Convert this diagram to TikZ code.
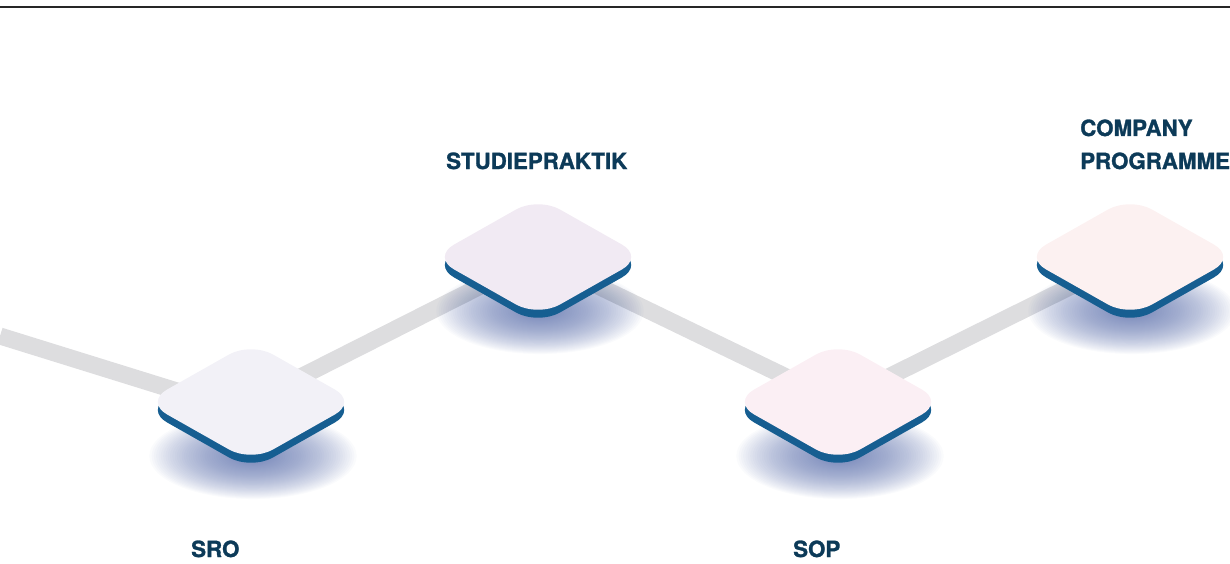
\documentclass[tikz,border=0pt]{standalone}
\usepackage{fontspec}
\setmainfont{TeX Gyre Heros}[BoldFeatures={FakeBold=1.3}]
\usepackage{tikz}
\usetikzlibrary{shapes.geometric,calc}
\pgfdeclarelayer{background}
\pgfdeclarelayer{shade}
\pgfsetlayers{background,shade,main}
\definecolor{navy}{RGB}{12,58,88}
\definecolor{rimblue}{RGB}{22,94,145}
\definecolor{roadgray}{RGB}{221,221,223}
\definecolor{glowblue}{RGB}{70,92,160}
\definecolor{sroface}{RGB}{242,241,247}
\definecolor{studface}{RGB}{241,234,243}
\definecolor{sopface}{RGB}{251,239,244}
\definecolor{compface}{RGB}{252,241,241}

\begin{document}
\begin{tikzpicture}[x=1pt,y=-1pt]
\tikzstyle{tile}=[diamond,minimum width=212pt,minimum height=120pt,inner sep=0pt,rounded corners=25pt]
\tikzstyle{road}=[draw=roadgray,line width=17pt]
\tikzstyle{lbl}=[font=\fontsize{22.3}{33}\selectfont\bfseries,text=navy,inner sep=0pt,anchor=base west]

\useasboundingbox (0,0) rectangle (1230,564);
\draw[line width=1.5pt,black!85] (0,7) -- (1230,7);

\coordinate (start) at (0,336);

% rim first, face on top
\foreach \nm/\px/\py/\col in {sro/251/402/sroface,stud/538/257/studface,sop/838/402/sopface,comp/1130/257/compface}{
  \node[tile,fill=rimblue] (\nm rim) at (\px,\py+8) {};
  \node[tile,fill=\col] (\nm) at (\px,\py) {};
}

\node[lbl] (sro label) at (191,557) {SRO};
\node[lbl] (stud label) at (446,169) {STUDIEPRAKTIK};
\node[lbl] (sop label) at (793,557) {SOP};
\node[lbl,align=left] (comp label) at (1080,169) {COMPANY\\PROGRAMME};

\begin{pgfonlayer}{shade}
\foreach \nm in {sro,stud,sop,comp}
  \foreach \k in {1,...,40}
    \fill[glowblue,opacity=0.028] ($(\nm)+(2,54)$) ellipse ({106-2.3*\k} and {44-0.95*\k});
\end{pgfonlayer}

\begin{pgfonlayer}{background}
\draw[road] (start) -- ($(sro)+(0,12)$);
\draw[road] (sro.center) -- (stud.center) -- (sop.center) -- (comp.center);
\end{pgfonlayer}
\end{tikzpicture}
\end{document}
